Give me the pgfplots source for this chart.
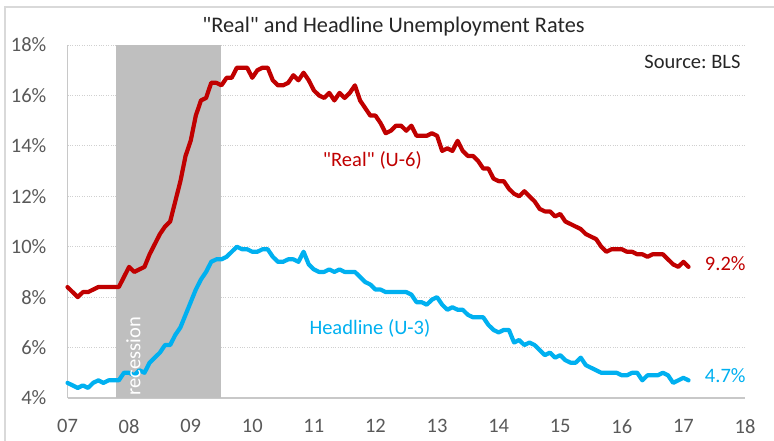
\documentclass[border=0pt]{standalone}
\usepackage{pgfplots}
\pgfplotsset{compat=1.18}
\usepackage{pgfplotstable}
\usepackage{fontspec}
\setmainfont{Carlito}[Ligatures=TeXOff]
\definecolor{ured}{HTML}{C00000}
\definecolor{ublue}{HTML}{00B0F0}
\definecolor{recgray}{HTML}{BFBFBF}
\definecolor{gridgray}{HTML}{D0D0D0}
\definecolor{axisgray}{HTML}{C8C8C8}
\definecolor{tickgray}{HTML}{595959}
\definecolor{framegray}{HTML}{D9D9D9}
\definecolor{titlegray}{HTML}{262626}

\pgfplotstableread{
yr mo u3 u6
7 1 4.6 8.4
7 2 4.5 8.2
7 3 4.4 8.0
7 4 4.5 8.2
7 5 4.4 8.2
7 6 4.6 8.3
7 7 4.7 8.4
7 8 4.6 8.4
7 9 4.7 8.4
7 10 4.7 8.4
7 11 4.7 8.4
7 12 5.0 8.8
8 1 5.0 9.2
8 2 4.9 9.0
8 3 5.1 9.1
8 4 5.0 9.2
8 5 5.4 9.7
8 6 5.6 10.1
8 7 5.8 10.5
8 8 6.1 10.8
8 9 6.1 11.0
8 10 6.5 11.8
8 11 6.8 12.6
8 12 7.3 13.6
9 1 7.8 14.2
9 2 8.3 15.2
9 3 8.7 15.8
9 4 9.0 15.9
9 5 9.4 16.5
9 6 9.5 16.5
9 7 9.5 16.4
9 8 9.6 16.7
9 9 9.8 16.7
9 10 10.0 17.1
9 11 9.9 17.1
9 12 9.9 17.1
10 1 9.8 16.7
10 2 9.8 17.0
10 3 9.9 17.1
10 4 9.9 17.1
10 5 9.6 16.6
10 6 9.4 16.4
10 7 9.4 16.4
10 8 9.5 16.5
10 9 9.5 16.8
10 10 9.4 16.6
10 11 9.8 16.9
10 12 9.3 16.6
11 1 9.1 16.2
11 2 9.0 16.0
11 3 9.0 15.9
11 4 9.1 16.1
11 5 9.0 15.8
11 6 9.1 16.1
11 7 9.0 15.9
11 8 9.0 16.1
11 9 9.0 16.4
11 10 8.8 15.8
11 11 8.6 15.5
11 12 8.5 15.2
12 1 8.3 15.2
12 2 8.3 14.9
12 3 8.2 14.5
12 4 8.2 14.6
12 5 8.2 14.8
12 6 8.2 14.8
12 7 8.2 14.6
12 8 8.1 14.8
12 9 7.8 14.4
12 10 7.8 14.4
12 11 7.7 14.4
12 12 7.9 14.5
13 1 8.0 14.4
13 2 7.7 13.8
13 3 7.5 13.9
13 4 7.6 13.8
13 5 7.5 14.2
13 6 7.5 13.8
13 7 7.3 13.6
13 8 7.2 13.6
13 9 7.2 13.4
13 10 7.2 13.1
13 11 6.9 13.1
13 12 6.7 12.7
14 1 6.6 12.6
14 2 6.7 12.6
14 3 6.7 12.3
14 4 6.2 12.1
14 5 6.3 12.0
14 6 6.1 12.2
14 7 6.2 12.0
14 8 6.1 11.8
14 9 5.9 11.5
14 10 5.7 11.4
14 11 5.8 11.4
14 12 5.6 11.2
15 1 5.7 11.3
15 2 5.5 11.0
15 3 5.4 10.9
15 4 5.4 10.8
15 5 5.6 10.7
15 6 5.3 10.5
15 7 5.2 10.4
15 8 5.1 10.3
15 9 5.0 10.0
15 10 5.0 9.8
15 11 5.0 9.9
15 12 5.0 9.9
16 1 4.9 9.9
16 2 4.9 9.8
16 3 5.0 9.8
16 4 5.0 9.7
16 5 4.7 9.7
16 6 4.9 9.6
16 7 4.9 9.7
16 8 4.9 9.7
16 9 5.0 9.7
16 10 4.9 9.5
16 11 4.6 9.3
16 12 4.7 9.2
17 1 4.8 9.4
17 2 4.7 9.2
}\rates

\begin{document}
\frenchspacing
\begin{tikzpicture}
\useasboundingbox (0,0) rectangle (774bp,441bp);
\draw[framegray, line width=1.2bp] (5bp,0) -- (5bp,434bp) -- (774bp,434bp);
\node[font=\fontsize{22.3bp}{26bp}\selectfont, text=titlegray] at (393.5bp,414bp) {"Real" and Headline Unemployment Rates};
\begin{axis}[
  at={(67.5bp,43bp)}, anchor=south west,
  scale only axis, width=677.5bp, height=353bp,
  xmin=7, xmax=18, ymin=4, ymax=18,
  xtick={7,8,...,18},
  xticklabels={07,08,09,10,11,12,13,14,15,16,17,18},
  ytick={4,6,...,18},
  yticklabels={4\%,6\%,8\%,10\%,12\%,14\%,16\%,18\%},
  axis x line*=bottom, axis y line*=left,
  axis line style={-, draw=axisgray, line width=1.4bp},
  major tick length=0pt,
  ymajorgrids,
  grid style={dotted, draw=gridgray, line width=0.9bp},
  tick label style={font=\fontsize{20.5bp}{24bp}\selectfont, text=tickgray},
  xticklabel style={anchor=north, inner sep=0pt, yshift=-21bp},
  yticklabel style={anchor=east, inner sep=0pt, xshift=-21bp},
  clip=false,
]
\addplot[fill=recgray, draw=none] coordinates {(7.79,4) (7.79,18) (9.5,18) (9.5,4)} -- cycle;
\addplot[ured, line width=4.2bp, line join=round, line cap=round] table[x expr=\thisrow{yr}+(\thisrow{mo}-1)/12, y=u6] {\rates};
\addplot[ublue, line width=4.2bp, line join=round, line cap=round] table[x expr=\thisrow{yr}+(\thisrow{mo}-1)/12, y=u3] {\rates};
\node[rotate=90, anchor=west, text=white, inner sep=0pt, font=\fontsize{20.5bp}{24bp}\selectfont] at (axis cs:8.07,4.1) {recession};
\node[text=ured, font=\fontsize{20.5bp}{24bp}\selectfont] at (axis cs:11.95,13.44) {"Real" (U-6)};
\node[text=ublue, font=\fontsize{20.5bp}{24bp}\selectfont] at (axis cs:11.91,6.77) {Headline (U-3)};
\node[text=ured, font=\fontsize{20.5bp}{24bp}\selectfont] at (axis cs:17.68,9.35) {9.2\%};
\node[text=ublue, font=\fontsize{20.5bp}{24bp}\selectfont] at (axis cs:17.68,4.87) {4.7\%};
\node[anchor=east, text=titlegray, inner sep=0pt, font=\fontsize{20.5bp}{24bp}\selectfont] at (axis cs:17.93,17.33) {Source: BLS};
\end{axis}
\end{tikzpicture}
\end{document}
